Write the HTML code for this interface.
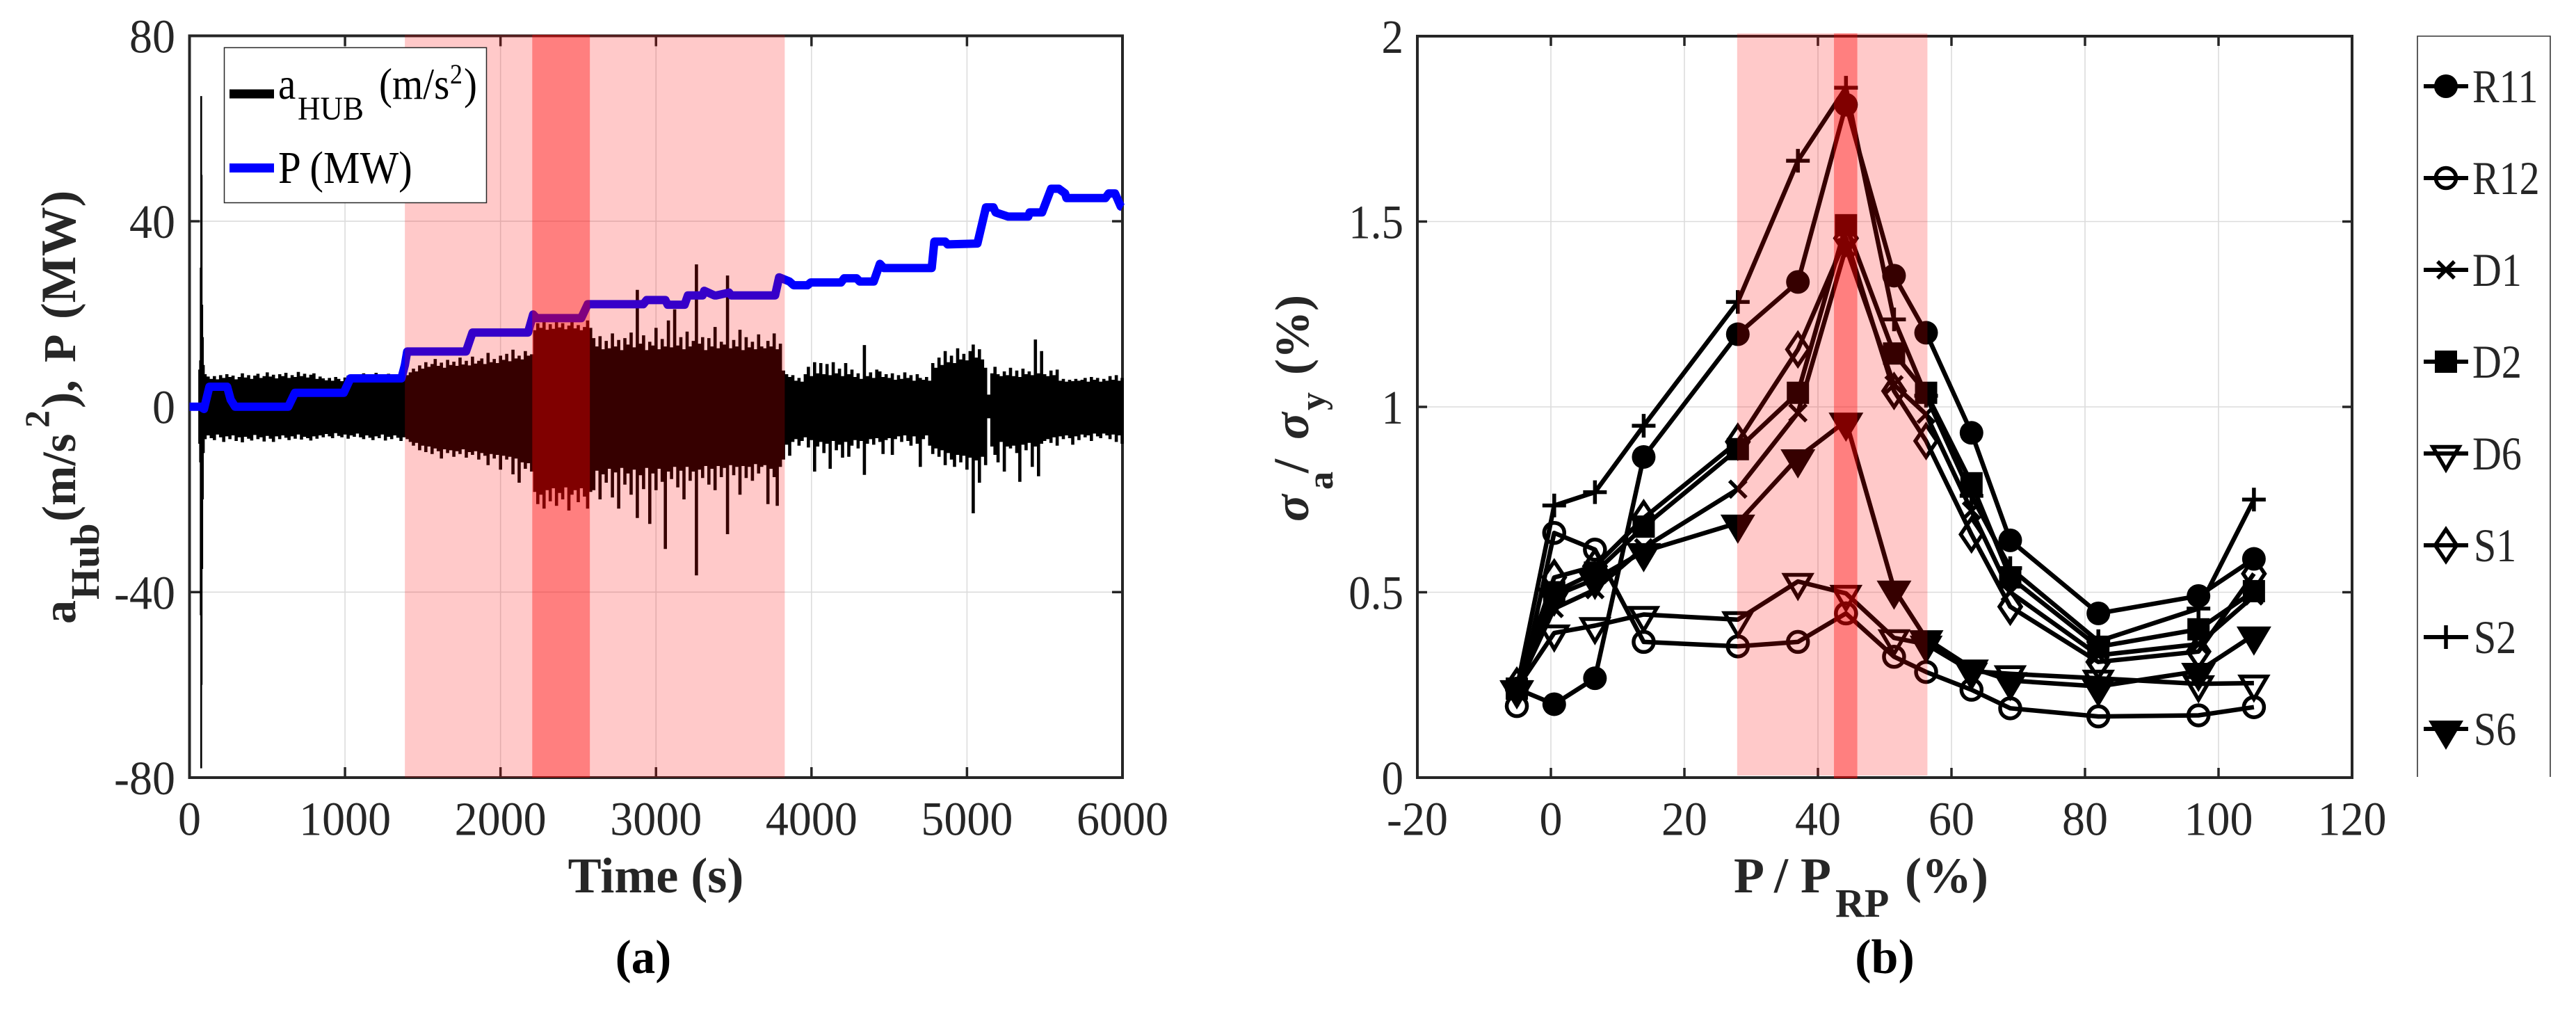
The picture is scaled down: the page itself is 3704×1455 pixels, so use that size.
<!DOCTYPE html>
<html lang="en">
<head>
<meta charset="utf-8">
<title>Hub acceleration and normalised stress versus power</title>
<style>
html,body{margin:0;padding:0;background:#fff;}
svg{display:block;}
text{font-family:"Liberation Serif",serif;fill:#262626;}
.b{font-weight:bold;}
</style>
</head>
<body>
<svg id="fig" xmlns="http://www.w3.org/2000/svg" width="3704" height="1455" viewBox="0 0 3704 1455">
  <rect x="0" y="0" width="3704" height="1455" fill="#fff"/>
  <g id="panelA"></g>
  <g id="panelB"></g>

  <!-- panel a static labels -->
  <text class="b" x="943" y="1283" font-size="72" text-anchor="middle">Time (s)</text>
  <text class="b" x="925" y="1399" font-size="69" text-anchor="middle" style="fill:#000">(a)</text>
  <g class="b">
    <text class="b" transform="translate(108,897) rotate(-90)" font-size="68">a</text>
    <text class="b" transform="translate(142,862) rotate(-90)" font-size="58">Hub</text>
    <text class="b" transform="translate(108,750) rotate(-90)" font-size="69">(m/s</text>
    <text class="b" transform="translate(70,615) rotate(-90)" font-size="50">2</text>
    <text class="b" transform="translate(108,587) rotate(-90)" font-size="70">),</text>
    <text class="b" transform="translate(108,521) rotate(-90)" font-size="66">P</text>
    <text class="b" transform="translate(108,459) rotate(-90)" font-size="71">(MW)</text>
  </g>
  <g>
    <rect x="322.5" y="68.5" width="377" height="223" fill="#fff" stroke="#262626" stroke-width="1.5"/>
    <line x1="330" x2="394" y1="135" y2="135" stroke="#000" stroke-width="13"/>
    <text transform="translate(400,142) scale(1,1.12)" font-size="57" style="fill:#000">a</text>
    <text transform="translate(428,172) scale(1,1.07)" font-size="45" style="fill:#000">HUB</text>
    <text transform="translate(545,142) scale(1,1.12)" font-size="57" style="fill:#000">(m/s</text>
    <text transform="translate(647,120) scale(1,1.12)" font-size="36" style="fill:#000">2</text>
    <text transform="translate(667,142) scale(1,1.12)" font-size="57" style="fill:#000">)</text>
    <line x1="330" x2="394" y1="241.5" y2="241.5" stroke="#0000ff" stroke-width="13"/>
    <text transform="translate(400,263) scale(1,1.12)" font-size="59" style="fill:#000">P (MW)</text>
  </g>

  <!-- panel b static labels -->
  <g>
    <text class="b" x="2493" y="1283" font-size="72">P / P</text>
    <text class="b" x="2639" y="1318" font-size="58">RP</text>
    <text class="b" x="2739" y="1283" font-size="72">(%)</text>
  </g>
  <text class="b" x="2710" y="1399" font-size="70" text-anchor="middle" style="fill:#000">(b)</text>
  <g>
    <text class="b" transform="translate(1881,750) rotate(-90)" font-size="72" font-style="italic">σ</text>
    <text class="b" transform="translate(1916,704) rotate(-90)" font-size="52">a</text>
    <text class="b" transform="translate(1881,680) rotate(-90)" font-size="72">/</text>
    <text class="b" transform="translate(1881,632) rotate(-90)" font-size="72" font-style="italic">σ</text>
    <text class="b" transform="translate(1905,590) rotate(-90)" font-size="52">y</text>
    <text class="b" transform="translate(1881,539) rotate(-90)" font-size="69">(%)</text>
  </g>
</svg>

<script>
// ---------- Panel (a) data ----------
const timeTicks = [0, 1000, 2000, 3000, 4000, 5000, 6000];
const accelTicks = [-80, -40, 0, 40, 80];
const accelTickLabels = ["-80", "-40", "0", "40", "80"];

// Initial transient of the hub acceleration
const transientTime = [62, 68, 72, 75, 78, 82, 86, 92];
const transientHigh = [8, 10, 30, 67, 50, 22, 15, 9];
const transientLow = [-8, -12, -45, -78, -60, -35, -20, -10];

// Acceleration envelope sampled every vibStep seconds from vibStart
const vibStart = 100;
const vibStep = 20;
const vibHigh = [
 7,6.5,6,6.6,5.9,6.8,6.2,7,6.4,6.7,
 5.9,6.4,7.2,6.3,6.8,6,6.7,7.1,6.2,6.6,
 7.4,6.5,6.9,6.1,7,6.6,7.3,6.2,6.8,6.4,
 7.5,6.6,7.1,6.3,6.9,7.2,6,6.5,6.1,5.7,
 6.2,5.6,6.4,6,5.5,6.3,6.7,5.8,7,6.2,
 6.6,7.2,6.3,6.8,6.1,7.3,6.4,6.7,6,7.1,
 6.5,6.8,6.2,7,6.4,6.8,7.4,8.2,7.6,8.9,
 8.2,9.6,8.6,9.2,10.3,8.8,9.5,8.4,10.1,9,
 9.7,8.8,10.6,9.1,9.9,8.9,10.8,9.3,9.9,10.4,
 9.2,11.6,9.6,10.3,9.4,11,10.1,11.4,9.8,12.3,
 10.4,11,10.2,12,11,11.3,16.5,18,17,18.4,
 16.6,17.8,16.8,18.3,17.1,18,16.7,17.5,18.4,16.9,
 17.6,16.5,17.2,18.6,17,14.8,13,15.2,12.4,14.2,
 12.6,15.8,13,14.4,12.2,14.8,13.4,16,12.8,25.2,
 13.6,15.4,12.2,14,13.2,17,12.4,14.6,13,18.6,
 12.8,21,13.2,15,12.4,16.2,13,14.2,30.7,13.6,
 15,12.2,14.8,13,17.2,12.6,14,13.4,28.3,12.6,
 14.4,13,16.6,12.2,15,12.8,14,12.4,15.6,13,
 12.6,14.2,13,15.8,12.4,13.6,7.8,7,6.4,6.8,
 5.6,6.2,5.4,7,8.6,6.6,9.6,7.2,9.4,7,
 9.2,6.8,9.6,7.2,8.2,6.6,9.4,7,8,6.4,
 7.2,6,13.3,6.6,7.4,6.2,8,7.6,6.4,7,
 6.2,7.2,5.8,6.8,6,7.4,6.2,6.8,5.6,7,
 6.2,5.8,6.4,5.6,9.4,8.4,10.6,9,12,9.6,
 11,9.4,12.6,10.2,11.4,10,12,13.4,10.6,12.4,
 10.2,8.4,2.6,7.2,8.6,7,6.6,7.6,6.8,8.4,
 6.6,7.8,6.4,8.2,7,7.6,6.8,14.5,7.2,12,
 7,6.6,7.8,6.8,8,5.6,6,5.4,5.8,5.5,
 6,5.6,5.8,6.2,5.4,6.4,5.8,6.2,5.4,6,
 5.6,6.6,5.8,6.8,5.6,6.2
];
const vibLow = [
 -7,-6.2,-6.8,-7.2,-6,-6.6,-7.6,-6.4,-7,-6.2,
 -7.4,-6.6,-7.7,-6.5,-6.9,-7.3,-6.1,-7,-6.6,-7.5,
 -6.3,-6.9,-7.6,-6.4,-7,-6.2,-6.7,-7.2,-6.4,-6.9,
 -6,-7.1,-6.5,-6.8,-7.3,-6.4,-6.9,-6.2,-6.6,-5.9,
 -6.4,-6.8,-5.7,-6.3,-6.6,-6,-6.9,-6.2,-6.5,-5.8,
 -6.6,-7,-6.2,-6.7,-7.2,-6.4,-6.8,-6,-7.3,-6.5,
 -7,-6.2,-6.7,-7.4,-6.6,-7,-7.6,-8.4,-7.8,-9.4,
 -8.4,-9.8,-8.6,-10.2,-9,-9.6,-11.2,-9.2,-10,-9.4,
 -10.8,-9.6,-10.2,-9.2,-11,-9.8,-10.4,-9.6,-11.4,-10,
 -10.6,-12.6,-10.2,-11.2,-10.4,-13.6,-10.6,-11.4,-10.8,-14.6,
 -11.2,-16.4,-12,-13.4,-12.2,-14,-18.4,-21,-19,-22,
 -18,-20.4,-17.6,-21.4,-18.6,-20,-17.4,-22.4,-19,-18,
 -20.6,-17.6,-19.4,-22,-18.4,-18,-13.8,-20,-14.6,-16.4,
 -13.4,-19.6,-14.2,-22,-13.2,-16.8,-14.4,-19,-13.6,-24,
 -14.8,-17.8,-13.2,-25.3,-14.4,-18,-13.4,-16.2,-30.7,-14,
 -15.6,-13,-17.4,-13.8,-20,-13,-16,-14,-36.4,-13.6,
 -15.4,-12.8,-16.8,-13.4,-18,-12.8,-15.2,-13.2,-27.5,-12.6,
 -14.8,-13,-19,-12.8,-15.4,-13,-16,-12.4,-14.4,-13,
 -12.6,-21,-13.4,-15.2,-21.4,-13,-11.4,-8.2,-10.6,-7.6,
 -7,-8.4,-7.4,-6.6,-8.8,-7.2,-14,-8.6,-7.6,-10,
 -8,-13.4,-7.4,-9.4,-8.2,-11,-7.6,-10.8,-8.4,-7.2,
 -9,-7.4,-14.7,-8,-7,-8.2,-6.8,-7.6,-10.2,-7.2,
 -6.8,-10.4,-7,-6.4,-7.6,-6.2,-7.4,-8.4,-6.4,-8,
 -13,-7,-6.2,-8.4,-10.2,-9,-10.8,-9.4,-12.6,-10,
 -11.4,-13,-10.4,-12,-10.6,-13.6,-11,-23,-11.6,-16.4,
 -10.8,-12.6,-2.5,-8.6,-10.4,-12,-7.6,-14,-8.6,-9,
 -8.4,-10,-16.2,-8.2,-9.4,-7.8,-13,-8.6,-15,-8,
 -7.4,-7,-7.8,-6.6,-8.4,-6.4,-7,-6.2,-6.8,-8.2,
 -6.4,-7.2,-6,-6.6,-6.2,-7.4,-5.8,-6.4,-6.8,-5.8,
 -6.2,-7,-6,-7.6,-6.2,-8
];

// Active power (MW)
const powerTime = [0,70,93,128,242,265,293,635,678,992,1035,1363,1385,1400,1778,1820,2177,2210,2232,2519,2561,2918,2940,3060,3075,3184,3205,3300,3310,3375,3390,3470,3485,3766,3792,3858,3885,3975,3995,4190,4210,4290,4310,4400,4440,4465,4773,4790,4860,4875,5067,5122,5170,5184,5265,5394,5403,5483,5541,5591,5631,5640,5890,5912,5952,5989,6000];
const powerMW = [0,0,-0.5,4.3,4.3,1.5,0,0,3,3,6.1,6.1,9,11.9,11.9,16,16,19.9,19.1,19.1,22.1,22.1,23,23,22,22,24,24,25,24,24,24.6,24,24,27.9,27,26.2,26.2,26.8,26.8,27.7,27.7,27,27,30.8,29.9,29.9,35.6,35.6,35,35.2,43,43,41.9,41,41,41.9,41.9,47,47,46,45,45,46,46,43.2,43];

// ---------- Panel (b) data ----------
const powerRatio = [-5.1, 0.5, 6.6, 13.9, 28, 37, 44.2, 51.4, 56.2, 63, 68.8, 82, 97, 105.3];
const ratioTicks = [-20, 0, 20, 40, 60, 80, 100, 120];
const stressTicks = [0, 0.5, 1, 1.5, 2];
const stressTickLabels = ["0", "0.5", "1", "1.5", "2"];
const seriesNames = ["R11", "R12", "D1", "D2", "D6", "S1", "S2", "S6"];
const markerKinds = ["circleFilled", "circleOpen", "cross", "square", "triOpen", "diamond", "plus", "triFilled"];
const r11 = [0.24, 0.198, 0.268, 0.865, 1.196, 1.337, 1.815, 1.354, 1.2, 0.93, 0.64, 0.443, 0.49, 0.59];
const r12 = [0.193, 0.66, 0.615, 0.366, 0.354, 0.366, 0.443, 0.326, 0.285, 0.237, 0.187, 0.165, 0.168, 0.19];
const d1 = [0.24, 0.456, 0.507, 0.62, 0.778, 0.984, 1.43, 1.06, 0.98, 0.72, 0.5, 0.33, 0.36, 0.49];
const d2 = [0.24, 0.5, 0.553, 0.677, 0.886, 1.038, 1.49, 1.144, 1.038, 0.794, 0.54, 0.353, 0.4, 0.503];
const d6 = [0.24, 0.39, 0.41, 0.44, 0.426, 0.529, 0.497, 0.377, 0.36, 0.287, 0.28, 0.268, 0.253, 0.255];
const s1 = [0.248, 0.54, 0.57, 0.7, 0.906, 1.155, 1.455, 1.043, 0.908, 0.656, 0.461, 0.312, 0.34, 0.55];
const s2 = [0.24, 0.734, 0.77, 0.949, 1.283, 1.664, 1.861, 1.236, 1.03, 0.76, 0.565, 0.368, 0.456, 0.75];
const s6 = [0.24, 0.49, 0.535, 0.61, 0.687, 0.863, 0.962, 0.509, 0.375, 0.296, 0.262, 0.246, 0.287, 0.385];

// ---------- Axis functions ----------
const xA = t => 272.5 + (t / 6000) * (1614 - 272.5);
const yA = v => 584.7 - (v / 80) * (584.7 - 51.5);
const xB = p => 2230 + p * 9.6;
const yB = s => 1118 - s * 533;

const NS = "http://www.w3.org/2000/svg";
const panelA = document.getElementById("panelA");
const panelB = document.getElementById("panelB");
const AXIS = "#262626";

function mk(tag, attrs, parent) {
  const el = document.createElementNS(NS, tag);
  for (const k in attrs) el.setAttribute(k, attrs[k]);
  parent.appendChild(el);
  return el;
}

function drawFrame(parent, left, right, top, bottom, xTicks, yTicks, xf, yf, tickLen, prefix) {
  for (const t of xTicks) {
    if (xf(t) <= left + 1 || xf(t) >= right - 1) continue;
    const g = mk("line", {x1: xf(t), x2: xf(t), y1: top, y2: bottom, stroke: "#dcdcdc", "stroke-width": 1.6}, parent);
    
    
  }
  for (const v of yTicks) {
    if (yf(v) <= top + 1 || yf(v) >= bottom - 1) continue;
    const g = mk("line", {x1: left, x2: right, y1: yf(v), y2: yf(v), stroke: "#dcdcdc", "stroke-width": 1.6}, parent);
    
    
  }
}

function drawAxes(parent, left, right, top, bottom, xTicks, yTicks, xf, yf, tickLen, prefix) {
  const box = mk("rect", {x: left, y: top, width: right - left, height: bottom - top, fill: "none", stroke: AXIS, "stroke-width": 4}, parent);
  
  
  for (const t of xTicks) {
    if (xf(t) <= left + 1 || xf(t) >= right - 1) continue;
    const a = mk("line", {x1: xf(t), x2: xf(t), y1: bottom, y2: bottom - tickLen, stroke: AXIS, "stroke-width": 3.5}, parent);
    
    
    const b = mk("line", {x1: xf(t), x2: xf(t), y1: top, y2: top + tickLen, stroke: AXIS, "stroke-width": 3.5}, parent);
    
    
  }
  for (const v of yTicks) {
    if (yf(v) <= top + 1 || yf(v) >= bottom - 1) continue;
    const a = mk("line", {x1: left, x2: left + tickLen, y1: yf(v), y2: yf(v), stroke: AXIS, "stroke-width": 3.5}, parent);
    
    
    const b = mk("line", {x1: right, x2: right - tickLen, y1: yf(v), y2: yf(v), stroke: AXIS, "stroke-width": 3.5}, parent);
    
    
  }
}

function tickText(parent, x, y, str, anchor, size, sy, name) {
  const t = mk("text", {transform: "translate(" + x + "," + y + ") scale(1," + sy + ")", "font-size": size, "text-anchor": anchor}, parent);
  t.textContent = str;
  
  
}

function band(parent, x1, x2, y1, y2, alpha, name) {
  const r = mk("rect", {x: x1, y: y1, width: x2 - x1, height: y2 - y1, fill: "#ff0000", "fill-opacity": alpha}, parent);
  
  
}

// ---------- Draw panel (a) ----------
drawFrame(panelA, 272.5, 1614, 51.5, 1118, timeTicks, accelTicks, xA, yA, 15, "a");
drawAxes(panelA, 272.5, 1614, 51.5, 1118, timeTicks, accelTicks, xA, yA, 15, "a");

let transientD = "";
transientTime.forEach((t, i) => {
  transientD += "M" + xA(t).toFixed(1) + " " + yA(transientHigh[i]).toFixed(1) + "V" + yA(transientLow[i]).toFixed(1);
});
const transientPath = mk("path", {d: transientD, stroke: "#000", "stroke-width": 2.6, fill: "none"}, panelA);



let vibD = "";
const vibN = Math.min(vibHigh.length, vibLow.length);
for (let i = 0; i < vibN; i++) {
  const t = Math.min(vibStart + i * vibStep, 5998);
  vibD += "M" + xA(t).toFixed(1) + " " + yA(vibHigh[i]).toFixed(1) + "V" + yA(vibLow[i]).toFixed(1);
}
const vibPath = mk("path", {d: vibD, stroke: "#000", "stroke-width": 4.6, fill: "none"}, panelA);



const powerPts = powerTime.map((t, i) => xA(t).toFixed(1) + "," + yA(powerMW[i]).toFixed(1)).join(" ");
const powerLine = mk("polyline", {points: powerPts, fill: "none", stroke: "#0000ff", "stroke-width": 12, "stroke-linejoin": "round", "stroke-linecap": "butt"}, panelA);



band(panelA, xA(1385), xA(2204), 50, 1118, 0.21, "operating-band-a-left");
band(panelA, xA(2575), xA(3828), 50, 1118, 0.21, "operating-band-a-right");
band(panelA, xA(2204), xA(2575), 50, 1118, 0.5, "resonance-band-a");

timeTicks.forEach(t => tickText(panelA, xA(t), 1200.5, String(t), "middle", 66, 1.05, "x-tick-label-a"));
accelTicks.forEach((v, i) => tickText(panelA, 252, yA(v) + 24, accelTickLabels[i], "end", 66, 1.05, "y-tick-label-a"));

// ---------- Draw panel (b) ----------
function marker(parent, kind, cx, cy, name) {
  let el;
  const sw = 5.5;
  if (kind === "circleFilled") el = mk("circle", {cx, cy, r: 17, fill: "#000"}, parent);
  else if (kind === "circleOpen") el = mk("circle", {cx, cy, r: 14.5, fill: "none", stroke: "#000", "stroke-width": sw}, parent);
  else if (kind === "square") el = mk("rect", {x: cx - 16, y: cy - 16, width: 32, height: 32, fill: "#000"}, parent);
  else if (kind === "triFilled") el = mk("polygon", {points: (cx - 25) + "," + (cy - 12) + " " + (cx + 25) + "," + (cy - 12) + " " + cx + "," + (cy + 30), fill: "#000"}, parent);
  else if (kind === "triOpen") el = mk("polygon", {points: (cx - 19) + "," + (cy - 9.5) + " " + (cx + 19) + "," + (cy - 9.5) + " " + cx + "," + (cy + 23), fill: "none", stroke: "#000", "stroke-width": sw}, parent);
  else if (kind === "diamond") el = mk("polygon", {points: cx + "," + (cy - 23) + " " + (cx + 15.5) + "," + cy + " " + cx + "," + (cy + 23) + " " + (cx - 15.5) + "," + cy, fill: "none", stroke: "#000", "stroke-width": sw}, parent);
  else if (kind === "plus") el = mk("path", {d: "M" + (cx - 17) + " " + cy + "H" + (cx + 17) + "M" + cx + " " + (cy - 17) + "V" + (cy + 17), fill: "none", stroke: "#000", "stroke-width": sw}, parent);
  else el = mk("path", {d: "M" + (cx - 12) + " " + (cy - 12) + "L" + (cx + 12) + " " + (cy + 12) + "M" + (cx + 12) + " " + (cy - 12) + "L" + (cx - 12) + " " + (cy + 12), fill: "none", stroke: "#000", "stroke-width": sw}, parent);
  
  
}

drawFrame(panelB, 2038, 3382, 52, 1118, ratioTicks, stressTicks, xB, yB, 14, "b");
drawAxes(panelB, 2038, 3382, 52, 1118, ratioTicks, stressTicks, xB, yB, 14, "b");

const seriesValues = [r11, r12, d1, d2, d6, s1, s2, s6];
seriesValues.forEach((vals, si) => {
  const pts = vals.map((v, i) => xB(powerRatio[i]).toFixed(1) + "," + yB(v).toFixed(1)).join(" ");
  const line = mk("polyline", {points: pts, fill: "none", stroke: "#000", "stroke-width": 6.5, "stroke-linejoin": "round"}, panelB);
  
  
  vals.forEach((v, i) => marker(panelB, markerKinds[si], xB(powerRatio[i]), yB(v), "series-point-" + seriesNames[si].toLowerCase()));
});

band(panelB, xB(27.9), xB(42.4), 48, 1115, 0.21, "operating-band-b-left");
band(panelB, xB(45.9), xB(56.4), 48, 1115, 0.21, "operating-band-b-right");
band(panelB, xB(42.4), xB(45.9), 48, 1119, 0.5, "resonance-band-b");

ratioTicks.forEach(t => tickText(panelB, xB(t), 1200.5, String(t), "middle", 66, 1.05, "x-tick-label-b"));
stressTicks.forEach((v, i) => tickText(panelB, 2018, yB(v) + 24, stressTickLabels[i], "end", 63, 1.09, "y-tick-label-b"));

// ---------- Legend (b) ----------
const legendB = mk("g", {}, panelB);


const legendFrame = mk("path", {d: "M3476 1117V52H3667V1117", fill: "none", stroke: "#333", "stroke-width": 1.6}, legendB);


seriesNames.forEach((nm, i) => {
  const ly = 124 + i * 132;
  const l = mk("line", {x1: 3485, x2: 3549, y1: ly, y2: ly, stroke: "#000", "stroke-width": 6}, legendB);
  
  
  marker(legendB, markerKinds[i], 3517, ly, "legend-marker-" + nm.toLowerCase());
  const tx = nm.charAt(0) === "S" ? 3557 : 3555;
  tickText(legendB, tx, ly + 23, nm, "start", 58, 1.16, "legend-label-" + nm.toLowerCase());
});
</script>
</body>
</html>
